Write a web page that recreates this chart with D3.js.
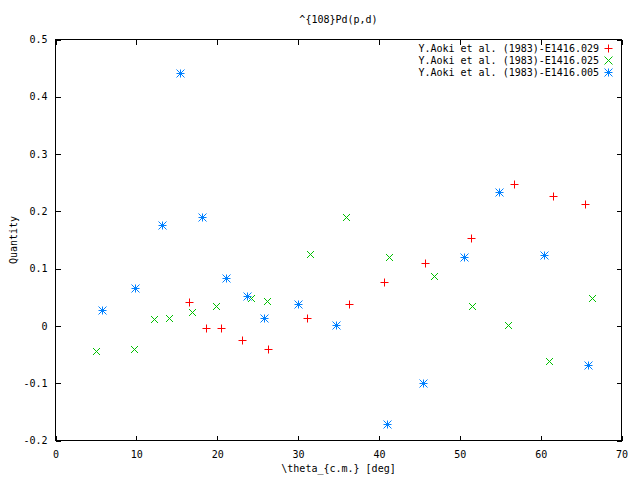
<!DOCTYPE html>
<html>
<head>
<meta charset="utf-8">
<script src="https://cdn.jsdelivr.net/npm/d3@7"></script>
<style>
  html, body { margin: 0; padding: 0; background: #fff; }
  svg text { font-family: "DejaVu Sans Mono", "Liberation Mono", monospace; font-size: 10px; fill: #000; }
</style>
</head>
<body>
<svg id="chart" width="640" height="480"></svg>
<script>
// ---- data ----
const title = "^{108}Pd(p,d)";
const xLabel = "\\theta_{c.m.} [deg]";
const yLabel = "Quantity";
const seriesNames = [
  "Y.Aoki et al. (1983)-E1416.029",
  "Y.Aoki et al. (1983)-E1416.025",
  "Y.Aoki et al. (1983)-E1416.005"
];
const seriesColors = ["#ff0000", "#00c000", "#0080ff"];
const seriesShapes = ["plus", "cross", "star"];

const s029x = [16.56, 18.63, 20.52, 23.12, 26.34, 31.16, 36.32, 40.57, 45.73, 51.34, 56.66, 61.49, 65.45];
const s029y = [0.041, -0.003, -0.003, -0.024, -0.040, 0.013, 0.039, 0.077, 0.109, 0.154, 0.248, 0.226, 0.212];

const s025x = [5.05, 9.68, 12.19, 14.08, 16.93, 19.90, 24.23, 26.21, 31.53, 35.87, 41.19, 46.84, 51.46, 55.92, 60.99, 66.31];
const s025y = [-0.043, -0.040, 0.012, 0.014, 0.025, 0.034, 0.049, 0.043, 0.126, 0.191, 0.121, 0.088, 0.034, 0.001, -0.061, 0.048];

const s005x = [5.72, 9.84, 13.22, 15.45, 18.17, 21.14, 23.70, 25.84, 30.05, 34.75, 40.94, 45.40, 50.47, 54.80, 60.37, 65.82];
const s005y = [0.027, 0.067, 0.177, 0.442, 0.191, 0.084, 0.052, 0.013, 0.039, 0.002, -0.171, -0.099, 0.121, 0.234, 0.124, -0.069];

const xTicks = [0, 10, 20, 30, 40, 50, 60, 70];
const yTicks = [-0.2, -0.1, 0, 0.1, 0.2, 0.3, 0.4, 0.5];

// ---- build ----
const seriesX = [s029x, s025x, s005x];
const seriesY = [s029y, s025y, s005y];
const series = seriesNames.map((name, i) => ({
  name, color: seriesColors[i], shape: seriesShapes[i],
  points: seriesX[i].map((xv, j) => ({ x: xv, y: seriesY[i][j] }))
}));

const svg = d3.select("#chart");
const L = 55.5, R = 621.5, T = 39.5, B = 440.5;
const x = d3.scaleLinear().domain([0, 70]).range([L, R]);
const y = d3.scaleLinear().domain([-0.2, 0.5]).range([B, T]);

const fmtY = d => (d === 0 ? "0" : d3.format(".1f")(d).replace("\u2212", "-"));
const tick = 5;

function styleAxis(g) {
  g.select(".domain").remove();
  g.selectAll(".tick line").attr("stroke", "#000").attr("shape-rendering", "crispEdges");
  g.selectAll("text").attr("font-family", null).attr("font-size", null);
}

svg.append("g").attr("transform", `translate(0,${B})`)
  .call(d3.axisBottom(x).tickValues(xTicks).tickSize(-tick).tickPadding(10).tickFormat(d3.format("d")))
  .call(styleAxis);
svg.append("g").attr("transform", `translate(0,${T})`)
  .call(d3.axisTop(x).tickValues(xTicks).tickSize(-tick).tickFormat(""))
  .call(styleAxis);
svg.append("g").attr("transform", `translate(${L},0)`)
  .call(d3.axisLeft(y).tickValues(yTicks).tickSize(-tick).tickPadding(8).tickFormat(fmtY))
  .call(styleAxis);
svg.append("g").attr("transform", `translate(${R},0)`)
  .call(d3.axisRight(y).tickValues(yTicks).tickSize(-tick).tickFormat(""))
  .call(styleAxis);

// border
svg.append("rect").attr("x", L).attr("y", T).attr("width", R - L).attr("height", B - T)
  .attr("fill", "none").attr("stroke", "#000").attr("stroke-width", 1).attr("shape-rendering", "crispEdges");

// marker path generator
function markerPath(shape, r) {
  const plus = `M${-r},0H${r}M0,${-r}V${r}`;
  const cross = `M${-r},${-r}L${r},${r}M${-r},${r}L${r},${-r}`;
  if (shape === "plus") return plus;
  if (shape === "cross") return cross;
  return plus + cross;
}

const gPts = svg.append("g");
series.forEach(s => {
  gPts.append("g").selectAll("path").data(s.points).join("path")
    .attr("transform", d => `translate(${Math.round(x(d.x)) + 0.5},${Math.round(y(d.y)) + 0.5})`)
    .attr("d", markerPath(s.shape, s.shape === "plus" ? 4 : (s.shape === "cross" ? 3.5 : 4)))
    .attr("fill", "none").attr("stroke", s.color).attr("stroke-width", 1);
});

// legend
const lg = svg.append("g");
series.forEach((s, i) => {
  const ly = 48 + i * 12;
  lg.append("text").attr("x", 599).attr("y", ly).attr("dy", "0.35em")
    .attr("text-anchor", "end").text(s.name);
  lg.append("path").attr("transform", `translate(608.5,${ly + 0.5})`)
    .attr("d", markerPath(s.shape, 4)).attr("fill", "none").attr("stroke", s.color).attr("stroke-width", 1);
});

// titles
svg.append("text").attr("x", (L + R) / 2).attr("y", 19).attr("dy", "0.35em")
  .attr("text-anchor", "middle").text(title);
svg.append("text").attr("x", (L + R) / 2).attr("y", 468).attr("dy", "0.35em")
  .attr("text-anchor", "middle").text(xLabel);
svg.append("text").attr("transform", "translate(13,240) rotate(-90)").attr("dy", "0.35em")
  .attr("text-anchor", "middle").text(yLabel);
</script>
</body>
</html>
